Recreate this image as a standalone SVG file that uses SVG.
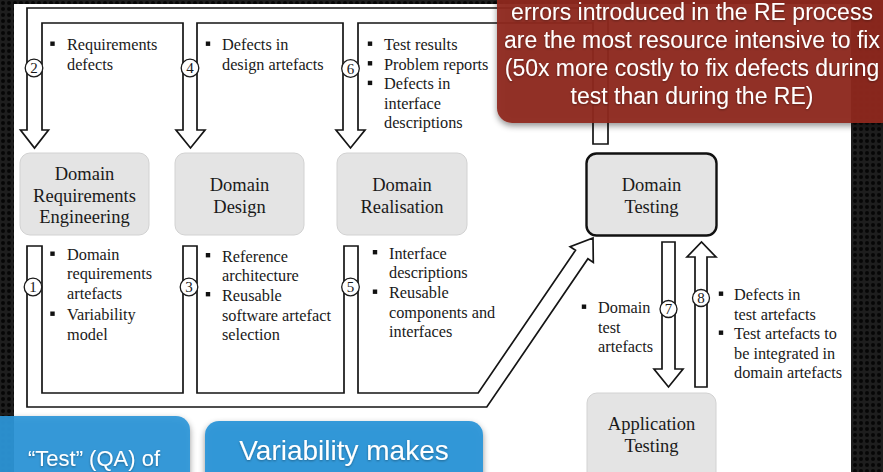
<svg xmlns="http://www.w3.org/2000/svg" width="883" height="472" viewBox="0 0 883 472">
  <defs>
    <pattern id="mesh" width="6" height="6" patternUnits="userSpaceOnUse">
      <rect width="6" height="6" fill="#1e1e1e"/>
      <circle cx="3" cy="3" r="2" fill="#060606"/>
    </pattern>
    <filter id="shadow" x="-10%" y="-10%" width="120%" height="130%">
      <feDropShadow dx="0" dy="3" stdDeviation="3" flood-color="#000" flood-opacity="0.45"/>
    </filter>
    <filter id="textShadow" x="-5%" y="-20%" width="110%" height="150%">
      <feDropShadow dx="0" dy="1" stdDeviation="1" flood-color="#000" flood-opacity="0.35"/>
    </filter>
    <g id="bullet"><rect x="-2.2" y="-8.5" width="4.4" height="4.4" fill="#111"/></g>
  </defs>
  <style>
    .flow { fill: #fff; stroke: #151515; stroke-width: 1.7; stroke-linejoin: miter; }
    .box { fill: #e4e4e4; stroke: #d2d2d2; stroke-width: 1; }
    .box-bold { fill: #e4e4e4; stroke: #111; stroke-width: 2.4; }
    .title { font-family: "Liberation Serif", "Times New Roman", serif; font-size: 18.5px; fill: #1a1a1a; text-anchor: middle; }
    .item { font-family: "Liberation Serif", "Times New Roman", serif; font-size: 16.3px; fill: #1a1a1a; }
    .num-ring { fill: #fff; stroke: #1a1a1a; stroke-width: 1.3; }
    .num { font-family: "Liberation Serif", "Times New Roman", serif; font-size: 15px; fill: #1a1a1a; text-anchor: middle; }
    .note { font-family: "Liberation Sans", Arial, sans-serif; fill: #fff; text-anchor: middle; }
  </style>

  <!-- dark mesh backdrop and white sheet -->
  <rect width="883" height="472" fill="url(#mesh)"/>
  <rect x="14" y="4" width="837" height="470" fill="#fff"/>

  <!-- connectors: hollow flow arrows -->
  <g id="connectors">
    <!-- feedback band from Domain Testing back to steps 2, 4, 6 -->
    <path class="flow" d="M27,8 H608 V144 H593 V23 H358 V130 H365 L350.5,148 L336,130 H343 V23 H197 V130 H205 L190.5,148 L176,130 H183 V23 H42 V130 H48.5 L34.5,148 L20.5,130 H27 Z"/>
    <!-- artefact band from steps 1, 3, 5 into Domain Testing -->
    <path class="flow" d="M27,246 V407 H486.8 L587.9,258.7 L593.3,262.4 L593,238 L570.1,246.6 L575.5,250.3 L478.2,393 H358 V246 H344 V393 H197 V246 H183 V393 H42 V246 Z"/>
    <!-- 7: Domain Testing to Application Testing -->
    <path class="flow" d="M662,242 H675 V369 H683 L668.5,387 L654,369 H662 Z"/>
    <!-- 8: Application Testing back to Domain Testing -->
    <path class="flow" d="M695,387 V257 H687 L701.5,242 L716,257 H707 V387 Z"/>

    <g id="step-numbers">
      <circle class="num-ring" cx="34" cy="68" r="8.8"/><text class="num" x="34" y="73.2">2</text>
      <circle class="num-ring" cx="190" cy="68" r="8.8"/><text class="num" x="190" y="73.2">4</text>
      <circle class="num-ring" cx="350.5" cy="68.5" r="8.8"/><text class="num" x="350.5" y="73.7">6</text>
      <circle class="num-ring" cx="33" cy="287" r="8.8"/><text class="num" x="33" y="292.2">1</text>
      <circle class="num-ring" cx="189" cy="287" r="8.8"/><text class="num" x="189" y="292.2">3</text>
      <circle class="num-ring" cx="350.5" cy="287" r="8.8"/><text class="num" x="350.5" y="292.2">5</text>
      <circle class="num-ring" cx="668.5" cy="309" r="8.5"/><text class="num" x="668.5" y="314.2">7</text>
      <circle class="num-ring" cx="701" cy="298" r="8.5"/><text class="num" x="701" y="303.2">8</text>
    </g>
  </g>

  <!-- flow labels -->
  <g id="flow-labels">
    <g id="label-2">
      <use href="#bullet" x="52.5" y="50"/>
      <text class="item" x="67" y="50">Requirements</text>
      <text class="item" x="67" y="69.5">defects</text>
    </g>
    <g id="label-4">
      <use href="#bullet" x="208" y="50"/>
      <text class="item" x="222" y="50">Defects in</text>
      <text class="item" x="222" y="69.5">design artefacts</text>
    </g>
    <g id="label-6">
      <use href="#bullet" x="370" y="50"/>
      <text class="item" x="384" y="50">Test results</text>
      <use href="#bullet" x="370" y="69.6"/>
      <text class="item" x="384" y="69.6">Problem reports</text>
      <use href="#bullet" x="370" y="89.2"/>
      <text class="item" x="384" y="89.2">Defects in</text>
      <text class="item" x="384" y="108.8">interface</text>
      <text class="item" x="384" y="128.4">descriptions</text>
    </g>
    <g id="label-1">
      <use href="#bullet" x="52.5" y="260"/>
      <text class="item" x="67" y="260">Domain</text>
      <text class="item" x="67" y="279">requirements</text>
      <text class="item" x="67" y="298.5">artefacts</text>
      <use href="#bullet" x="52.5" y="320"/>
      <text class="item" x="67" y="320">Variability</text>
      <text class="item" x="67" y="339.5">model</text>
    </g>
    <g id="label-3">
      <use href="#bullet" x="208" y="261.5"/>
      <text class="item" x="222" y="261.5">Reference</text>
      <text class="item" x="222" y="281">architecture</text>
      <use href="#bullet" x="208" y="300.5"/>
      <text class="item" x="222" y="300.5">Reusable</text>
      <text class="item" x="222" y="320.5">software artefact</text>
      <text class="item" x="222" y="340">selection</text>
    </g>
    <g id="label-5">
      <use href="#bullet" x="375" y="258.5"/>
      <text class="item" x="389" y="258.5">Interface</text>
      <text class="item" x="389" y="278">descriptions</text>
      <use href="#bullet" x="375" y="298"/>
      <text class="item" x="389" y="298">Reusable</text>
      <text class="item" x="389" y="317.5">components and</text>
      <text class="item" x="389" y="337">interfaces</text>
    </g>
    <g id="label-7">
      <use href="#bullet" x="584" y="313"/>
      <text class="item" x="598" y="313">Domain</text>
      <text class="item" x="598" y="332.5">test</text>
      <text class="item" x="598" y="352">artefacts</text>
    </g>
    <g id="label-8">
      <use href="#bullet" x="721" y="300"/>
      <text class="item" x="734" y="300">Defects in</text>
      <text class="item" x="734" y="319.5">test artefacts</text>
      <use href="#bullet" x="721" y="339"/>
      <text class="item" x="734" y="339">Test artefacts to</text>
      <text class="item" x="734" y="358.5">be integrated in</text>
      <text class="item" x="734" y="378">domain artefacts</text>
    </g>
  </g>

  <!-- process nodes -->
  <g id="domain-requirements-engineering">
    <rect class="box" x="20" y="153" width="129" height="82" rx="10"/>
    <text class="title" x="84.5" y="180">Domain</text>
    <text class="title" x="84.5" y="201.5">Requirements</text>
    <text class="title" x="84.5" y="223">Engineering</text>
  </g>
  <g id="domain-design">
    <rect class="box" x="175" y="153" width="129" height="82" rx="10"/>
    <text class="title" x="239.5" y="191">Domain</text>
    <text class="title" x="239.5" y="213">Design</text>
  </g>
  <g id="domain-realisation">
    <rect class="box" x="337" y="153" width="130" height="82" rx="10"/>
    <text class="title" x="402" y="191">Domain</text>
    <text class="title" x="402" y="213">Realisation</text>
  </g>
  <g id="domain-testing">
    <rect class="box-bold" x="586.5" y="153.5" width="130" height="82" rx="10"/>
    <text class="title" x="651.5" y="191">Domain</text>
    <text class="title" x="651.5" y="213">Testing</text>
  </g>
  <g id="application-testing">
    <rect class="box" x="587" y="393" width="129" height="90" rx="10"/>
    <text class="title" x="651.5" y="430">Application</text>
    <text class="title" x="651.5" y="452">Testing</text>
  </g>

  <!-- callout notes -->
  <g id="note-re-cost">
    <rect x="497" y="-20" width="400" height="143" rx="15" fill="#8f2a1e" fill-opacity="0.93" filter="url(#shadow)"/>
    <g class="note" font-size="23" filter="url(#textShadow)">
      <text x="692" y="19.5">errors introduced in the RE process</text>
      <text x="692" y="47.5">are the most resource intensive to fix</text>
      <text x="692" y="75.5">(50x more costly to fix defects during</text>
      <text x="692" y="103.5">test than during the RE)</text>
    </g>
  </g>
  <g id="note-test-qa">
    <rect x="-14" y="416" width="204" height="80" rx="14" fill="#2d96d8" fill-opacity="0.92" filter="url(#shadow)"/>
    <text class="note" x="94" y="466" font-size="22" filter="url(#textShadow)">“Test” (QA) of</text>
  </g>
  <g id="note-variability">
    <rect x="205" y="421" width="278" height="80" rx="14" fill="#2d96d8" fill-opacity="0.95" filter="url(#shadow)"/>
    <text class="note" x="344" y="460" font-size="28" filter="url(#textShadow)">Variability makes</text>
  </g>
</svg>
